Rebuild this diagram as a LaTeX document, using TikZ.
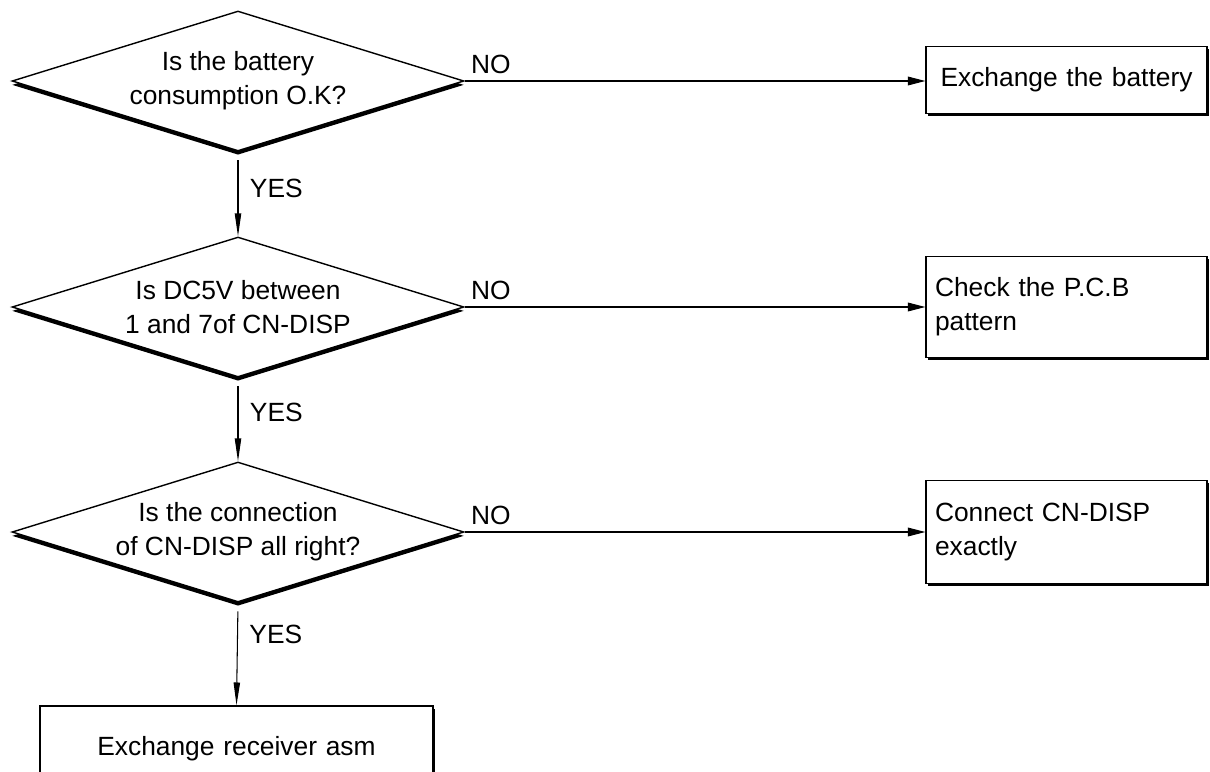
\documentclass[tikz,border=0pt]{standalone}
\usepackage{fontspec}
\setmainfont{Liberation Sans}
\usetikzlibrary{shapes.geometric,arrows.meta,shadows}

\tikzset{
  question/.style={diamond, draw, line width=0.8pt, fill=white, aspect=3.23,
    inner sep=0pt, minimum width=9.04cm, minimum height=2.8cm, align=center,
    drop shadow={shadow xshift=0pt, shadow yshift=-2.2pt, fill=black, opacity=1}},
  action/.style={rectangle, draw, line width=0.8pt, fill=white,
    minimum width=5.62cm, inner xsep=0.18cm, text width=5.26cm, align=left,
    drop shadow={shadow xshift=1.2pt, shadow yshift=-1.6pt, fill=black, opacity=1}},
  down/.style={-{Triangle[length=13pt,width=3.6pt]}, line width=0.6pt, shorten <=5pt},
  across/.style={-{Triangle[length=10pt,width=5pt]}, line width=0.6pt},
  nolabel/.style={anchor=south west, inner xsep=3.4pt, inner ysep=3.7pt},
  yeslabel/.style={right, inner xsep=6.5pt}
}

\begin{document}
\begin{tikzpicture}[x=0.02cm, y=-0.02cm, font=\fontsize{15}{19.5}\selectfont]
  \clip (0,0) rectangle (1210,771);

  % Questions
  \node[question] (q1) at (238,81) {Is the battery\\consumption O.K?};
  \node[question] (q2) at (238,307) {Is DC5V between\\1 and 7of CN-DISP};
  \node[question] (q3) at (238,532) {Is the connection\\of CN-DISP all right?};

  % Actions
  \node[action, minimum height=1.34cm, align=center] (a1) at (1066.5,80) {Exchange the battery};
  \node[action, minimum height=2.02cm] (a2) at (1066.5,307) {Check the P.C.B\\pattern};
  \node[action, minimum height=2.06cm] (a3) at (1066.5,532) {Connect CN-DISP\\exactly};
  \node[action, minimum width=7.86cm, text width=7.5cm, align=center,
        minimum height=1.72cm] (a4) at (236.5,749) {Exchange receiver asm};

  % NO branches
  \draw[across] (q1.east) -- node[nolabel, pos=0] (no1) {NO} (q1.east -| a1.west);
  \draw[across] (q2.east) -- node[nolabel, pos=0] (no2) {NO} (a2.west);
  \draw[across] (q3.east) -- node[nolabel, pos=0] (no3) {NO} (a3.west);

  % YES branches
  \draw[down] (q1.south) -- node[yeslabel, pos=0.43] (yes1) {YES} (q2.north);
  \draw[down] (q2.south) -- node[yeslabel, pos=0.42] (yes2) {YES} (q3.north);
  \draw[down] (q3.south) -- node[yeslabel, pos=0.31] (yes3) {YES} (a4.north);
\end{tikzpicture}
\end{document}
